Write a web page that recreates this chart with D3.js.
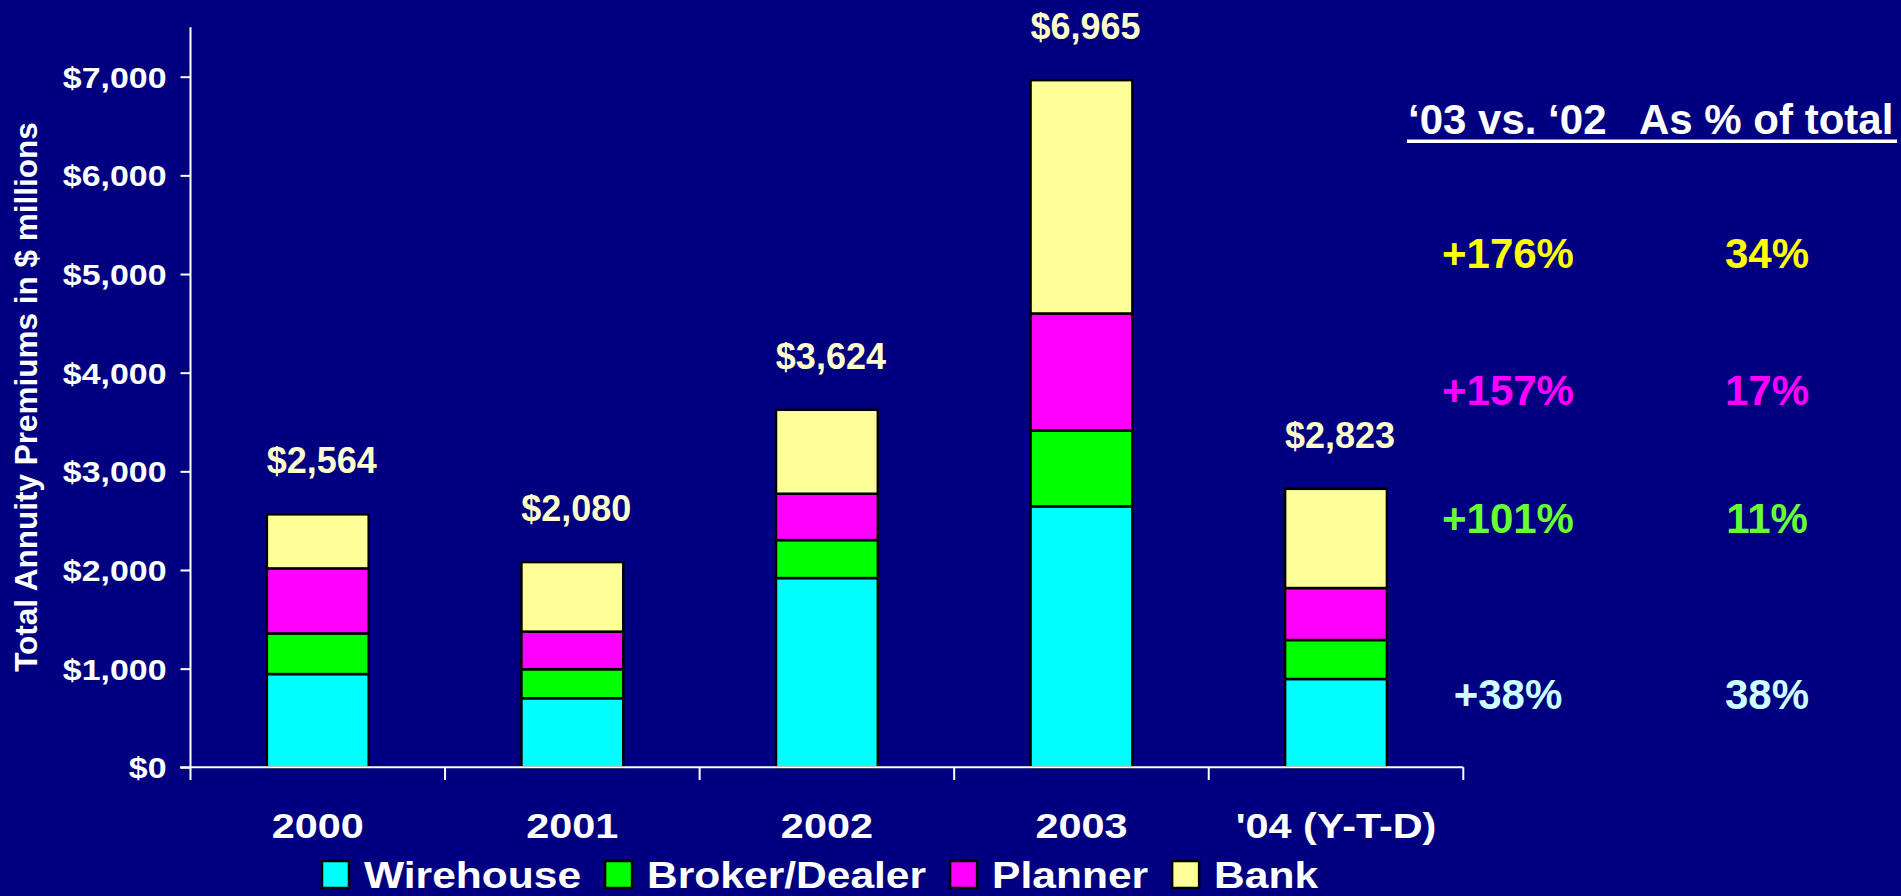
<!DOCTYPE html>
<html>
<head>
<meta charset="utf-8">
<script src="https://cdn.jsdelivr.net/npm/d3@7"></script>
<style>
  html, body { margin: 0; padding: 0; background: #000080; overflow: hidden; }
  svg { display: block; font-family: "Liberation Sans", Arial, sans-serif; }
</style>
</head>
<body>
<div id="chart"></div>
<script>
// categories and series (annuity premiums, $ millions)
const years = ["2000", "2001", "2002", "2003", "'04 (Y-T-D)"];
const wirehouse = [945, 700, 1918, 2645, 895];
const brokerDealer = [412, 294, 385, 770, 395];
const planner = [659, 381, 470, 1185, 527];
const bank = [548, 705, 851, 2365, 1006];
const totals = [2564, 2080, 3624, 6965, 2823];

const seriesNames = ["Wirehouse", "Broker/Dealer", "Planner", "Bank"];
const yTicks = [0, 1000, 2000, 3000, 4000, 5000, 6000, 7000];

// side panel: '03 vs '02 growth and share of total (top row = Bank)
const growthLabels = ["+176%", "+157%", "+101%", "+38%"];
const shareLabels = ["34%", "17%", "11%", "38%"];

const seriesColors = ["#00ffff", "#00ff00", "#ff00ff", "#ffff99"];
const panelColors = ["#ffff00", "#ff00ff", "#66ff33", "#ccffff"];

const width = 1901;
const height = 896;

const svg = d3.select("#chart")
  .append("svg")
  .attr("width", width)
  .attr("height", height);

svg.append("rect")
  .attr("width", width)
  .attr("height", height)
  .attr("fill", "#000080");

// build the table the stack needs
const table = years.map((year, i) => ({
  year: year,
  Wirehouse: wirehouse[i],
  "Broker/Dealer": brokerDealer[i],
  Planner: planner[i],
  Bank: bank[i],
  total: totals[i],
}));

const stacked = d3.stack().keys(seriesNames)(table);

const x = d3.scaleBand()
  .domain(years)
  .range([190.5, 1463.3])
  .paddingInner(0.6)
  .paddingOuter(0.3);

const y = d3.scaleLinear()
  .domain([0, 7500])
  .range([767.3, 767.3 - 7500 * 0.098657]);

// bars
svg.append("g")
  .selectAll("g")
  .data(stacked)
  .enter()
  .append("g")
  .attr("fill", (d, i) => seriesColors[i])
  .selectAll("rect")
  .data((d) => d)
  .enter()
  .append("rect")
  .attr("x", (d) => x(d.data.year))
  .attr("y", (d) => y(d[1]))
  .attr("width", x.bandwidth())
  .attr("height", (d) => y(d[0]) - y(d[1]))
  .attr("stroke", "#000")
  .attr("stroke-width", 2.5);

// y axis
const yAxis = svg.append("g")
  .attr("transform", "translate(190.5,0)")
  .call(
    d3.axisLeft(y)
      .tickValues(yTicks)
      .tickSize(10)
      .tickFormat((d) => "$" + d3.format(",")(d))
  );
yAxis.select(".domain").remove();
yAxis.selectAll(".tick line").attr("stroke", "#fff").attr("stroke-width", 2);
yAxis.selectAll(".tick text")
  .attr("x", 0)
  .attr("dy", "0.35em")
  .attr("transform", "translate(-24,0) scale(1.13,1)")
  .attr("fill", "#fff")
  .attr("font-size", "30px")
  .attr("font-weight", "bold")
  .attr("font-family", "'Liberation Sans', Arial, sans-serif");

svg.append("line")
  .attr("x1", 190.5).attr("x2", 190.5)
  .attr("y1", y(7500)).attr("y2", 780)
  .attr("stroke", "#fff")
  .attr("stroke-width", 2);

// x axis
svg.append("line")
  .attr("x1", 180).attr("x2", x.range()[1])
  .attr("y1", y(0)).attr("y2", y(0))
  .attr("stroke", "#fff")
  .attr("stroke-width", 2);

svg.append("g")
  .selectAll("line")
  .data(years)
  .enter()
  .append("line")
  .attr("x1", (d, i) => x.range()[0] + (i + 1) * x.step())
  .attr("x2", (d, i) => x.range()[0] + (i + 1) * x.step())
  .attr("y1", y(0))
  .attr("y2", 780)
  .attr("stroke", "#fff")
  .attr("stroke-width", 2);

svg.append("g")
  .selectAll("text")
  .data(years)
  .enter()
  .append("text")
  .attr("transform", (d) => `translate(${x(d) + x.bandwidth() / 2},838) scale(1.15,1)`)
  .attr("text-anchor", "middle")
  .attr("fill", "#fff")
  .attr("font-size", "36px")
  .attr("font-weight", "bold")
  .text((d) => d);

// y axis title
svg.append("text")
  .attr("transform", "translate(37,397) rotate(-90)")
  .attr("text-anchor", "middle")
  .attr("fill", "#fff")
  .attr("font-size", "31.5px")
  .attr("font-weight", "bold")
  .text("Total Annuity Premiums in $ millions");

// totals above bars
svg.append("g")
  .selectAll("text")
  .data(table)
  .enter()
  .append("text")
  .attr("x", (d) => x(d.year) + x.bandwidth() / 2 + 4)
  .attr("y", (d) => y(d.total) - 41)
  .attr("text-anchor", "middle")
  .attr("fill", "#ffffcc")
  .attr("font-size", "36px")
  .attr("font-weight", "bold")
  .text((d) => "$" + d3.format(",")(d.total));

// legend
const legend = svg.append("g");
let lx = 322;
seriesNames.forEach((name, i) => {
  legend.append("rect")
    .attr("x", lx)
    .attr("y", 861)
    .attr("width", 27)
    .attr("height", 27)
    .attr("fill", seriesColors[i])
    .attr("stroke", "#000")
    .attr("stroke-width", 2.5);
  const t = legend.append("text")
    .attr("transform", `translate(${lx + 42},888) scale(1.15,1)`)
    .attr("fill", "#fff")
    .attr("font-size", "37px")
    .attr("font-weight", "bold")
    .text(name);
  lx += 42 + t.node().getComputedTextLength() * 1.15 + 24;
});

// side panel
const panel = svg.append("g");
panel.append("text")
  .attr("x", 1408)
  .attr("y", 134)
  .attr("fill", "#fff")
  .attr("font-size", "42px")
  .attr("font-weight", "bold")
  .text("\u201803 vs. \u201802");
panel.append("text")
  .attr("x", 1639)
  .attr("y", 134)
  .attr("fill", "#fff")
  .attr("font-size", "42px")
  .attr("font-weight", "bold")
  .text("As % of total");
panel.append("rect")
  .attr("x", 1407)
  .attr("y", 139.5)
  .attr("width", 490)
  .attr("height", 3.5)
  .attr("fill", "#fff");

const rowY = [268, 405, 533, 709];
panel.selectAll("text.growth")
  .data(growthLabels)
  .enter()
  .append("text")
  .attr("class", "growth")
  .attr("x", 1508)
  .attr("y", (d, i) => rowY[i])
  .attr("text-anchor", "middle")
  .attr("fill", (d, i) => panelColors[i])
  .attr("font-size", "42px")
  .attr("font-weight", "bold")
  .text((d) => d);

panel.selectAll("text.share")
  .data(shareLabels)
  .enter()
  .append("text")
  .attr("class", "share")
  .attr("x", 1767)
  .attr("y", (d, i) => rowY[i])
  .attr("text-anchor", "middle")
  .attr("fill", (d, i) => panelColors[i])
  .attr("font-size", "42px")
  .attr("font-weight", "bold")
  .text((d) => d);
</script>
</body>
</html>
